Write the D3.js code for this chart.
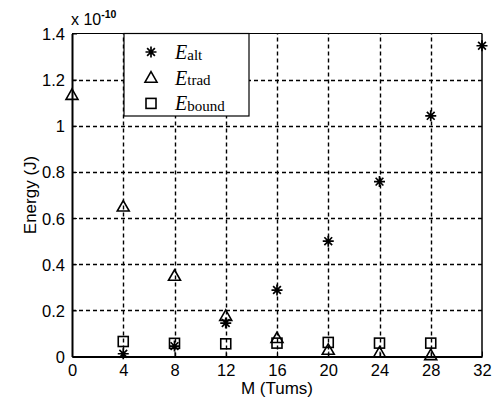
<!DOCTYPE html>
<html>
<head>
<meta charset="utf-8">
<script src="https://cdn.jsdelivr.net/npm/d3@7"></script>
<style>
  html, body { margin: 0; padding: 0; background: #fff; }
  svg { display: block; }
</style>
</head>
<body>
<svg id="chart" width="498" height="404"></svg>
<script>
// Number of turns M
const turns = [0, 4, 8, 12, 16, 20, 24, 28, 32];
// Energy values, in units of 1e-10 J (null = no point)
const eAlt   = [null, 0.012, 0.045, 0.145, 0.288, 0.50, 0.758, 1.043, 1.347];
const eTrad  = [1.134, 0.65, 0.35, 0.176, 0.08, 0.029, 0.017, 0.006, null];
const eBound = [null, 0.065, 0.057, 0.055, 0.058, 0.061, 0.058, 0.058, null];

const xTicks = [0, 4, 8, 12, 16, 20, 24, 28, 32];
const yTicks = [0, 0.2, 0.4, 0.6, 0.8, 1, 1.2, 1.4];
const legendNames = ["alt", "trad", "bound"];

const SANS = "'Liberation Sans', Arial, Helvetica, sans-serif";
const SERIF = "'Liberation Serif', 'Times New Roman', serif";

const svg = d3.select("#chart");
const m = { left: 72, right: 16, top: 33.5, bottom: 47.5 };
const W = 498, H = 404;
const iw = W - m.left - m.right, ih = H - m.top - m.bottom;

const x = d3.scaleLinear().domain([0, 32]).range([m.left, m.left + iw]);
const y = d3.scaleLinear().domain([0, 1.4]).range([m.top + ih, m.top]);

const g = svg.append("g");

// dashed grid
g.append("g").selectAll("line").data(xTicks.slice(1, -1)).join("line")
  .attr("x1", d => Math.round(x(d)) + 0.5).attr("x2", d => Math.round(x(d)) + 0.5)
  .attr("y1", y(0)).attr("y2", y(1.4))
  .attr("stroke", "#000").attr("stroke-width", 1.4).attr("stroke-dasharray", "4,3");
g.append("g").selectAll("line").data(yTicks.slice(1, -1)).join("line")
  .attr("y1", d => Math.round(y(d)) + 0.5).attr("y2", d => Math.round(y(d)) + 0.5)
  .attr("x1", x(0)).attr("x2", x(32))
  .attr("stroke", "#000").attr("stroke-width", 1.4).attr("stroke-dasharray", "4,3");

// axes with inward ticks
const xAxis = d3.axisBottom(x).tickValues(xTicks).tickSizeInner(-5).tickSizeOuter(0).tickPadding(8)
  .tickFormat(d3.format("d"));
const yAxis = d3.axisLeft(y).tickValues(yTicks).tickSizeInner(-5).tickSizeOuter(0).tickPadding(7)
  .tickFormat(d => d === 0 ? "0" : d === 1 ? "1" : d3.format(".1f")(d));

const gx = svg.append("g").attr("transform", `translate(0,${y(0)})`).call(xAxis);
const gy = svg.append("g").attr("transform", `translate(${x(0)},0)`).call(yAxis);
[gx, gy].forEach(a => {
  a.select(".domain").attr("stroke", "#000").attr("stroke-width", 2);
  a.selectAll(".tick line").attr("stroke", "#000");
  a.selectAll(".tick text").attr("fill", "#000").style("font-size", "16.5px").style("font-family", SANS);
});
gy.selectAll(".tick text").attr("dy", "0.36em");

// top and right frame
svg.append("line").attr("x1", x(0)).attr("x2", x(32)).attr("y1", y(1.4)).attr("y2", y(1.4))
  .attr("stroke", "#000").attr("stroke-width", 1.2);
svg.append("line").attr("x1", x(32)).attr("x2", x(32)).attr("y1", y(1.4)).attr("y2", y(0))
  .attr("stroke", "#000").attr("stroke-width", 1.5);

// exponent label
const ex = svg.append("text").attr("x", x(0) - 1).attr("y", 25).style("font-family", SANS).style("font-size", "16px");
ex.append("tspan").text("x 10");
ex.append("tspan").attr("dy", -7).style("font-size", "10.5px").attr("font-weight", "bold").text("-10");

// axis titles
svg.append("text").attr("x", (x(0) + x(32)) / 2).attr("y", 394).attr("text-anchor", "middle")
  .style("font-family", SANS).style("font-size", "17px").text("M (Tums)");
svg.append("text").attr("transform", `translate(36,${(y(0) + y(1.4)) / 2}) rotate(-90)`)
  .attr("text-anchor", "middle").style("font-family", SANS).style("font-size", "17px").text("Energy (J)");

// marker shapes
function star(sel, s) {
  const r = s / 2;
  const p = [];
  for (let k = 0; k < 4; k++) {
    const a = k * Math.PI / 4;
    p.push(`M${-r * Math.cos(a)},${-r * Math.sin(a)}L${r * Math.cos(a)},${r * Math.sin(a)}`);
  }
  sel.append("path").attr("d", p.join("")).attr("stroke", "#000").attr("stroke-width", 1.7).attr("fill", "none");
}
function tri(sel, s) {
  const r = s / 2;
  sel.append("path").attr("d", `M0,${-r}L${r},${r * 0.75}L${-r},${r * 0.75}Z`)
    .attr("stroke", "#000").attr("stroke-width", 1.6).attr("fill", "none");
}
function sq(sel, s) {
  const r = s / 2;
  sel.append("rect").attr("x", -r).attr("y", -r).attr("width", s).attr("height", s)
    .attr("stroke", "#000").attr("stroke-width", 1.6).attr("fill", "none");
}
const shapes = [star, tri, sq];
const series = [eAlt, eTrad, eBound];
const sizes = [11, 12, 10];

const pts = svg.append("g");
series.forEach((vals, i) => {
  turns.forEach((t, j) => {
    if (vals[j] == null) return;
    const gp = pts.append("g").attr("transform", `translate(${x(t)},${y(vals[j])})`);
    shapes[i](gp, sizes[i]);
  });
});

// legend
const lg = svg.append("g");
lg.append("rect").attr("x", 124).attr("y", y(1.4)).attr("width", 125).attr("height", 116 - y(1.4))
  .attr("fill", "#fff").attr("stroke", "#000").attr("stroke-width", 1.2);
legendNames.forEach((name, i) => {
  const cy = 52 + i * 25.7;
  const mg = lg.append("g").attr("transform", `translate(151,${cy})`);
  shapes[i](mg, sizes[i]);
  const t = lg.append("text").attr("x", 175).attr("y", cy + 7).style("font-family", SERIF);
  t.append("tspan").attr("font-style", "italic").style("font-size", "20px").text("E");
  t.append("tspan").style("font-size", "15px").attr("dy", 0.5).text(name);
});
</script>
</body>
</html>
